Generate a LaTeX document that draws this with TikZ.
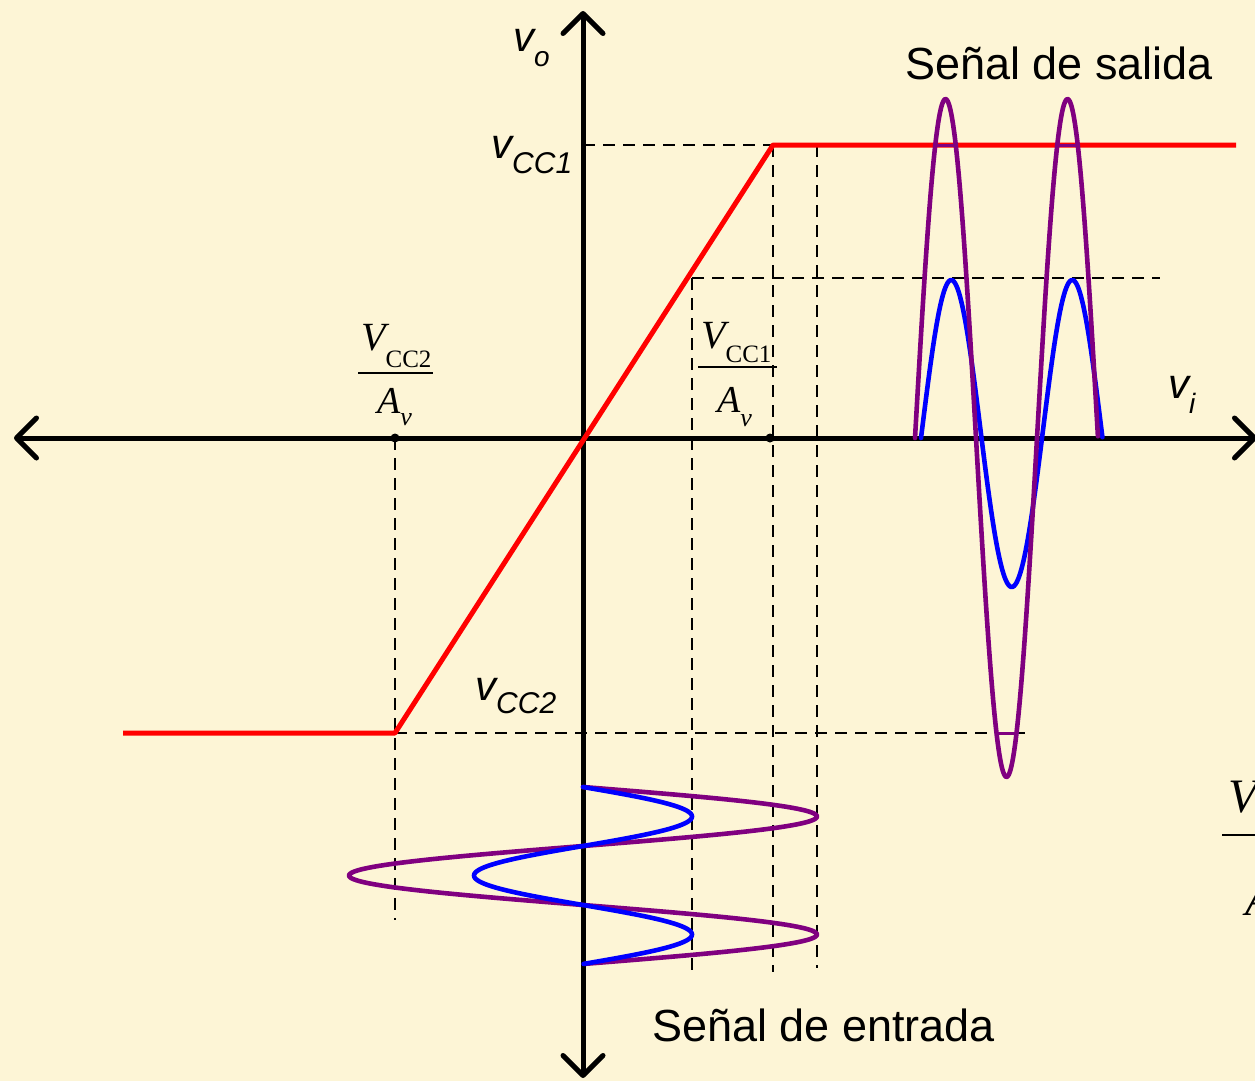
\documentclass[tikz,border=0pt]{standalone}
\usepackage{fontspec}
\setmainfont{Liberation Sans}
\newfontfamily\tms{Liberation Serif}
\usetikzlibrary{arrows.meta}
\definecolor{bg}{RGB}{253,245,214}
\definecolor{sigpurple}{RGB}{128,0,128}
\newcommand{\fsz}[1]{\fontsize{#1}{#1}\selectfont}
\begin{document}
\begin{tikzpicture}[x=1pt,y=-1pt,
  axis/.style={line width=5pt, line cap=round, {Straight Barb[length=20pt,width=40pt,round]}-{Straight Barb[length=20pt,width=40pt,round]}},
  guide/.style={line width=1.4pt, dash pattern=on 12pt off 8pt},
  transfer/.style={line width=5pt, red, line join=round},
  sigblue/.style={line width=4.6pt, blue, line join=round, line cap=round},
  sigpur/.style={line width=4.6pt, sigpurple, line join=round, line cap=round},
  chord/.style={line width=3pt, sigpurple},
  lbl/.style={inner sep=0pt, anchor=base west},
  fracbar/.style={line width=1.5pt},
  dot/.style={circle, fill=black, inner sep=0pt, minimum size=9pt}
  ]
\fill[bg] (0,0) rectangle (1255,1081);
\useasboundingbox (0,0) rectangle (1255,1081);
\clip (0,0) rectangle (1255,1081);

% key points
\coordinate (O) at (583,438);
\coordinate (xL) at (14,438);
\coordinate (xR) at (1257,438);
\coordinate (yT) at (583,11);
\coordinate (yB) at (583,1078);
\coordinate (P1) at (773,145);
\coordinate (P2) at (395,733);
\coordinate (Rend) at (1236,145);
\coordinate (Lend) at (123,733);

% dashed guides
\draw[guide] (583,145) -- (817,145);
\draw[guide] (773,145) -- (773,972);
\draw[guide] (817,145) -- (817,968);
\draw[guide] (692,278) -- (1160,278);
\draw[guide] (692,278) -- (692,972);
\draw[guide] (395,438) -- (395,920);
\draw[guide] (395,733) -- (1025,733);

% axes
\draw[axis] (xL) -- (xR);
\draw[axis] (yB) -- (yT);

% transfer characteristic
\draw[transfer] (Lend) -- (P2) -- (P1) -- (Rend);

% input signals
\draw[sigpur] plot[domain=0:1.5,samples=151,smooth] ({583+234*sin(360*\x)},{787+118*\x});
\draw[sigblue] plot[domain=0:1.5,samples=151,smooth] ({583+109*sin(360*\x)},{787+118*\x});

% output signals
\draw[sigblue] plot[domain=0:1.5,samples=151,smooth] ({921+121*\x},{438-(153.5+4.5*sin(360*\x))*sin(360*\x)});
\draw[sigpur] plot[domain=0:1.5,samples=151,smooth] ({915+122*\x},{438-339*sin(360*\x)});
\draw[chord] (935,145) -- (956,145);
\draw[chord] (1057,145) -- (1078,145);
\draw[chord] (996,733) -- (1017,733);

% dots
\node[dot] (d395) at (395,438) {};
\node[dot] (d770) at (770,438) {};

% labels
\node[lbl] (vo) at (513,52) {\itshape\fsz{42}v\raisebox{-15pt}{\fsz{28}o}};
\node[lbl] (vcc1) at (491,158) {\itshape\fsz{42}v\raisebox{-15pt}{\fsz{30}CC1}};
\node[lbl] (vcc2) at (475,700) {\itshape\fsz{42}v\raisebox{-13pt}{\fsz{30}CC2}};
\node[lbl] (vi) at (1168,398) {\itshape\fsz{42}v\raisebox{-15pt}{\fsz{28}i}};
\node[lbl] (out) at (905,80) {\fsz{45}Señal de salida};
\node[lbl] (in) at (652,1041) {\fsz{45}Señal de entrada};

% fraction VCC2/Av
\node[lbl] (n2) at (361,350) {\tms\fsz{40}\itshape V\upshape\raisebox{-17pt}{\fsz{25}CC2}};
\draw[fracbar] (358,373) -- (433,373);
\node[lbl] (a2) at (377,413) {\tms\fsz{38}\itshape A\raisebox{-12pt}{\fsz{26}v}};

% fraction VCC1/Av
\node[lbl] (n1) at (701,348) {\tms\fsz{40}\itshape V\upshape\raisebox{-14pt}{\fsz{25}CC1}};
\draw[fracbar] (698,367) -- (777,367);
\node[lbl] (a1) at (717,412) {\tms\fsz{38}\itshape A\raisebox{-14pt}{\fsz{26}v}};

% fraction at right edge (cut off, as in the reference)
\node[lbl] (n3) at (1228,812) {\tms\fsz{48}\itshape V\upshape\raisebox{-18pt}{\fsz{28}CC1}};
\draw[fracbar] (1222,835) -- (1320,835);
\node[lbl] (a3) at (1245,915) {\tms\fsz{46}\itshape A\raisebox{-16pt}{\fsz{30}v}};
\end{tikzpicture}
\end{document}
